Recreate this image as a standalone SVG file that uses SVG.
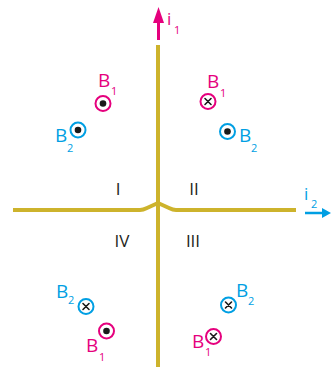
<svg xmlns="http://www.w3.org/2000/svg" width="331" height="367" viewBox="0 0 331 367">
<style>
.ax{fill:none;stroke:#cdb32c;stroke-width:4;stroke-linejoin:round}
.m{fill:none;stroke:#e5007d;stroke-width:2}
.c{fill:none;stroke:#009fe3;stroke-width:2}
.dot{fill:#1a1a1a}
.x{stroke:#1a1a1a;stroke-width:1.6;stroke-linecap:round}
.t{font-family:"Open Sans","Liberation Sans",sans-serif}
.tm{fill:#e5007d}
.tc{fill:#009fe3}
.r{fill:#231f20;font-size:17px;text-anchor:middle}
.b{font-size:19px}
.s{font-size:11px}
</style>
<rect width="331" height="367" fill="#fff"/>
<g id="connectors">
<path class="ax" d="M158,45 V367"/>
<path class="ax" d="M13,210 H140 Q143,210 147,208 L158,203 L169,208 Q173,210 176,210 H296"/>
<g id="i1">
<path d="M158.5,22 V40" stroke="#e5007d" stroke-width="3"/>
<polygon points="158.5,7 164,23 153,23" fill="#e5007d"/>
</g>
<g id="i2">
<path d="M305,213 H324" stroke="#009fe3" stroke-width="2.5"/>
<polygon points="331,213 322,208 322,218" fill="#009fe3"/>
</g>
</g>
<g id="labels" class="t">
<text class="t tm" x="167" y="25" font-size="17">i</text>
<text class="t tm s" x="174" y="34">1</text>
<text class="t tc" x="304" y="200" font-size="17">i</text>
<text class="t tc s" x="311" y="208">2</text>
<text class="t r" x="118" y="195">I</text>
<text class="t r" x="194" y="195">II</text>
<text class="t r" x="122" y="247">IV</text>
<text class="t r" x="193" y="247">III</text>
</g>
<g id="q1">
<circle class="m" cx="103" cy="103.5" r="7.5"/><circle class="dot" cx="103" cy="103.5" r="3.3"/>
<text class="t tm b" x="98" y="87">B</text><text class="t tm s" x="111" y="95">1</text>
<circle class="c" cx="78" cy="130" r="7.5"/><circle class="dot" cx="78" cy="130" r="3.3"/>
<text class="t tc b" x="55" y="142">B</text><text class="t tc s" x="67" y="152">2</text>
</g>
<g id="q2">
<circle class="m" cx="208" cy="101.5" r="7.5"/><path class="x" d="M205,98.5 l6,6 M211,98.5 l-6,6"/>
<text class="t tm b" x="207" y="88">B</text><text class="t tm s" x="220" y="97">1</text>
<circle class="c" cx="227.5" cy="131.5" r="7.5"/><circle class="dot" cx="227.5" cy="131.5" r="3.3"/>
<text class="t tc b" x="239" y="142">B</text><text class="t tc s" x="251" y="152">2</text>
</g>
<g id="q4">
<circle class="c" cx="86" cy="306.5" r="7.5"/><path class="x" d="M83,303.5 l6,6 M89,303.5 l-6,6"/>
<text class="t tc b" x="56" y="298">B</text><text class="t tc s" x="68" y="304">2</text>
<circle class="m" cx="106.5" cy="331" r="7.5"/><circle class="dot" cx="106.5" cy="331" r="3.3"/>
<text class="t tm b" x="86" y="352">B</text><text class="t tm s" x="99" y="361">1</text>
</g>
<g id="q3">
<circle class="c" cx="228.5" cy="305" r="7.5"/><path class="x" d="M225.5,302 l6,6 M231.5,302 l-6,6"/>
<text class="t tc b" x="236" y="297">B</text><text class="t tc s" x="248" y="305">2</text>
<circle class="m" cx="213.5" cy="336.5" r="7.5"/><path class="x" d="M210.5,333.5 l6,6 M216.5,333.5 l-6,6"/>
<text class="t tm b" x="192" y="348">B</text><text class="t tm s" x="205" y="356">1</text>
</g>
</svg>
